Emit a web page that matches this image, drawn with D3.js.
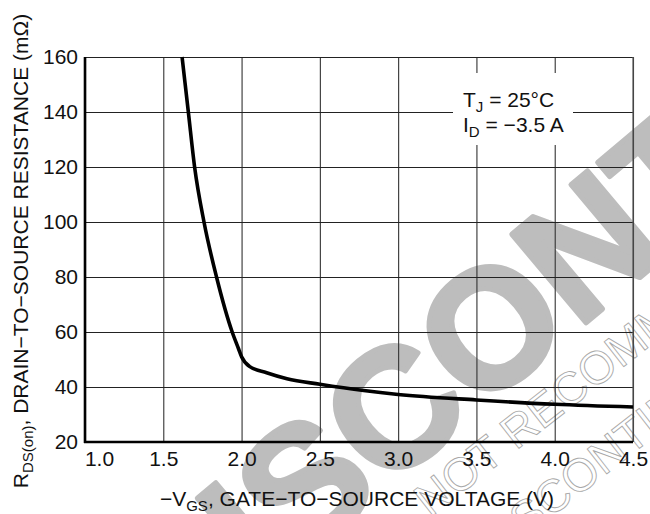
<!DOCTYPE html>
<html>
<head>
<meta charset="utf-8">
<script src="https://cdn.jsdelivr.net/npm/d3@7"></script>
<style>
  html, body { margin: 0; padding: 0; background: #fff; }
  svg { display: block; }
  .lbl { font-family: "Liberation Sans", Arial, Helvetica, sans-serif; fill: #111; }
</style>
</head>
<body>
<div id="chart"></div>
<script>
// values
const vgs = [1.62, 1.66, 1.70, 1.76, 1.84, 1.94, 1.98, 2.0, 2.05, 2.16, 2.29, 2.5, 2.78, 3.0, 3.5, 4.0, 4.5];
const rdsOn = [160, 140, 120, 100, 80, 60, 54, 51, 47.5, 45.2, 43, 41, 38.7, 37.3, 35.3, 33.7, 32.7];
const xTicks = [1.0, 1.5, 2.0, 2.5, 3.0, 3.5, 4.0, 4.5];
const yTicks = [20, 40, 60, 80, 100, 120, 140, 160];

const width = 650, height = 514;
const margin = { left: 85, top: 57, right: 17, bottom: 72 };
const innerWidth = width - margin.left - margin.right;
const innerHeight = height - margin.top - margin.bottom;
const font = '"Liberation Sans", Arial, Helvetica, sans-serif';

const svg = d3.select("#chart").append("svg").attr("width", width).attr("height", height);

const x = d3.scaleLinear().domain([1, 4.5]).range([margin.left, margin.left + innerWidth]);
const y = d3.scaleLinear().domain([20, 160]).range([margin.top + innerHeight, margin.top]);

// watermark
const wm = svg.append("g").attr("font-family", font);
wm.append("text")
  .attr("transform", "translate(170,672) rotate(-40)")
  .attr("font-size", 168)
  .attr("font-weight", "bold")
  .attr("fill", "#bdbdbd")
  .attr("stroke", "#bdbdbd")
  .attr("stroke-width", 5)
  .attr("stroke-linejoin", "round")
  .text("DISCONTINUED");
const outline = wm.append("g").attr("transform", "translate(430,518) rotate(-38)")
  .attr("font-size", 46).attr("fill", "none").attr("stroke", "#a8a8a8").attr("stroke-width", 0.9);
outline.append("text").attr("x", 0).attr("y", 0).text("NOT RECOMMENDED FOR NEW DESIGNS");
outline.append("text").attr("x", 17).attr("y", 74).text("DISCONTINUED");

// grid
svg.append("g")
  .attr("transform", `translate(0,${margin.top + innerHeight})`)
  .call(d3.axisBottom(x).tickValues(xTicks).tickSize(-innerHeight).tickFormat(() => ""))
  .call((g) => g.select(".domain").remove())
  .call((g) => g.selectAll("line").attr("stroke", "#333").attr("stroke-width", 1.1));
svg.append("g")
  .attr("transform", `translate(${margin.left},0)`)
  .call(d3.axisLeft(y).tickValues(yTicks).tickSize(-innerWidth).tickFormat(() => ""))
  .call((g) => g.select(".domain").remove())
  .call((g) => g.selectAll("line").attr("stroke", "#222").attr("stroke-width", 1.1));

// right border
svg.append("line")
  .attr("x1", x(4.5)).attr("x2", x(4.5)).attr("y1", y(160)).attr("y2", y(20))
  .attr("stroke", "#555").attr("stroke-width", 1.2);

// main axes
svg.append("line")
  .attr("x1", x(1)).attr("x2", x(1)).attr("y1", y(160)).attr("y2", y(20) + 1)
  .attr("stroke", "#000").attr("stroke-width", 2.6);
svg.append("line")
  .attr("x1", x(1) - 1).attr("x2", x(4.5)).attr("y1", y(20)).attr("y2", y(20))
  .attr("stroke", "#000").attr("stroke-width", 2.6);

// tick labels
const xAxis = svg.append("g")
  .attr("transform", `translate(0,${margin.top + innerHeight})`)
  .call(d3.axisBottom(x).tickValues(xTicks).tickSize(0).tickPadding(9).tickFormat(d3.format(".1f")))
  .call((g) => g.select(".domain").remove());
xAxis.selectAll("text").attr("font-family", font).attr("font-size", 21).attr("fill", "#111");
xAxis.selectAll("text").filter((d) => d === 1.0).attr("dx", 14);

const yAxis = svg.append("g")
  .attr("transform", `translate(${margin.left},0)`)
  .call(d3.axisLeft(y).tickValues(yTicks).tickSize(0).tickPadding(7))
  .call((g) => g.select(".domain").remove());
yAxis.selectAll("text").attr("font-family", font).attr("font-size", 21).attr("fill", "#111");

// annotation
svg.append("rect").attr("x", 453).attr("y", 73).attr("width", 120).attr("height", 72).attr("fill", "#fff");
const note = svg.append("text").attr("class", "lbl").attr("font-size", 21);
const l1 = note.append("tspan").attr("x", 463).attr("y", 107);
l1.append("tspan").text("T");
l1.append("tspan").attr("font-size", 15).attr("dy", 5).text("J");
l1.append("tspan").attr("dy", -5).text(" = 25°C");
const l2 = svg.append("text").attr("class", "lbl").attr("font-size", 21).attr("x", 463).attr("y", 132);
l2.append("tspan").text("I");
l2.append("tspan").attr("font-size", 15).attr("dy", 5).text("D");
l2.append("tspan").attr("dy", -5).text(" = \u22123.5 A");

// curve
const line = d3.line().x((d, i) => x(vgs[i])).y((d) => y(d)).curve(d3.curveMonotoneX);
svg.append("path")
  .datum(rdsOn)
  .attr("d", line)
  .attr("fill", "none")
  .attr("stroke", "#000")
  .attr("stroke-width", 3.6)
  .attr("stroke-linejoin", "round");

// axis titles
const xt = svg.append("text").attr("class", "lbl").attr("font-size", 21)
  .attr("x", 357).attr("y", 506).attr("text-anchor", "middle");
xt.append("tspan").text("\u2212V");
xt.append("tspan").attr("font-size", 15).attr("dy", 5).text("GS");
xt.append("tspan").attr("dy", -5).text(", GATE\u2212TO\u2212SOURCE VOLTAGE (V)");

const yt = svg.append("text").attr("class", "lbl").attr("font-size", 21)
  .attr("transform", "translate(28,251) rotate(-90)").attr("text-anchor", "middle");
yt.append("tspan").text("R");
yt.append("tspan").attr("font-size", 15).attr("dy", 5).text("DS(on)");
yt.append("tspan").attr("dy", -5).text(", DRAIN\u2212TO\u2212SOURCE RESISTANCE (m\u03A9)");
</script>
</body>
</html>
